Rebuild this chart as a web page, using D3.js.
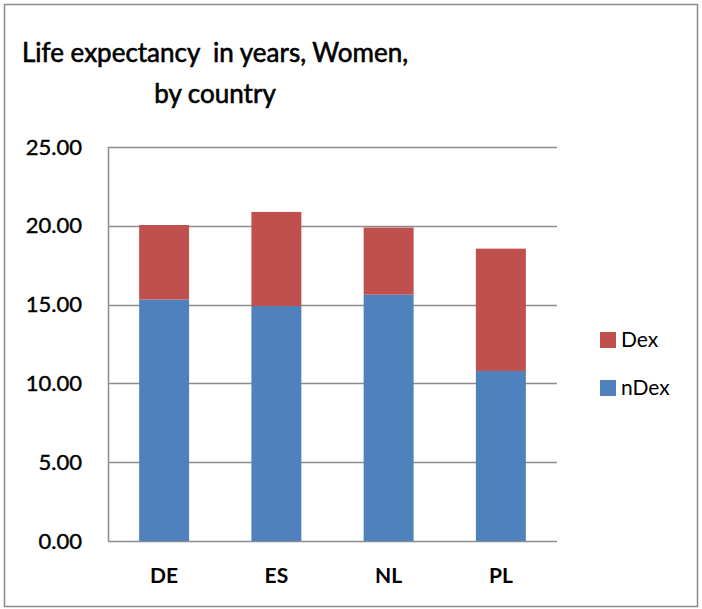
<!DOCTYPE html>
<html>
<head>
<meta charset="utf-8">
<script src="https://cdn.jsdelivr.net/npm/d3@7"></script>
<style>
  html, body { margin: 0; padding: 0; background: #fff; }
  svg { display: block; }
  text { font-family: Lato, "Open Sans", sans-serif; fill: #000; }
</style>
</head>
<body>
<svg id="chart" width="702" height="609"></svg>
<script>
// Life expectancy (years) for women, split into Dex and nDex
const countries = ["DE", "ES", "NL", "PL"];
const nDex = [15.32, 14.91, 15.63, 10.79];
const dex = [4.73, 5.97, 4.26, 7.76];
const seriesNames = ["nDex", "Dex"];
const seriesColors = ["#4F81BD", "#C0504D"];
const yTicks = [0, 5, 10, 15, 20, 25];
const titleLines = ["Life expectancy  in years, Women,", "by country"];

const svg = d3.select("#chart");
const W = 702, H = 609;
const plot = { left: 108, right: 557, top: 147, bottom: 541 };

// frame around the whole chart
svg.append("rect")
  .attr("x", 4.5).attr("y", 4.5)
  .attr("width", W - 9).attr("height", H - 7)
  .attr("fill", "#fff").attr("stroke", "#8a8a8a").attr("stroke-width", 1.5);

// title
const title = svg.append("text")
  .attr("text-anchor", "middle")
  .attr("font-size", 26)
  .attr("stroke", "#000")
  .attr("stroke-width", 0.6)
  .style("font-weight", 400);
titleLines.forEach((t, i) => {
  title.append("tspan")
    .attr("x", 215)
    .attr("y", 62 + i * 41)
    .attr("xml:space", "preserve")
    .style("white-space", "pre")
    .text(t);
});

const rows = countries.map((c, i) => ({ country: c, nDex: nDex[i], Dex: dex[i] }));
const stacked = d3.stack().keys(seriesNames)(rows);

const x = d3.scaleBand()
  .domain(countries)
  .range([plot.left, plot.right])
  .paddingInner(0.555)
  .paddingOuter(0.2775);

const y = d3.scaleLinear()
  .domain([0, 25])
  .range([plot.bottom, plot.top]);

// horizontal gridlines
svg.append("g")
  .selectAll("line")
  .data(yTicks)
  .join("line")
  .attr("x1", plot.left).attr("x2", plot.right)
  .attr("y1", d => Math.round(y(d)) + 0.5)
  .attr("y2", d => Math.round(y(d)) + 0.5)
  .attr("stroke", "#8c8c8c")
  .attr("stroke-width", 1.5);

// vertical axis line
svg.append("line")
  .attr("x1", plot.left + 0.5).attr("x2", plot.left + 0.5)
  .attr("y1", plot.top).attr("y2", plot.bottom)
  .attr("stroke", "#8c8c8c").attr("stroke-width", 1.5);

// stacked bars
svg.append("g")
  .selectAll("g")
  .data(stacked)
  .join("g")
  .attr("fill", (d, i) => seriesColors[i])
  .selectAll("rect")
  .data(d => d)
  .join("rect")
  .attr("x", d => x(d.data.country))
  .attr("width", x.bandwidth())
  .attr("y", d => y(d[1]))
  .attr("height", d => y(d[0]) - y(d[1]));

// y axis labels
const yAxis = d3.axisLeft(y)
  .tickValues(yTicks)
  .tickFormat(d3.format(".2f"))
  .tickSize(0)
  .tickPadding(26);
const yg = svg.append("g")
  .attr("transform", `translate(${plot.left},0)`)
  .call(yAxis);
yg.select(".domain").remove();
yg.selectAll("text")
  .attr("font-size", 22)
  .attr("font-family", "Lato, sans-serif")
  .attr("fill", "#000")
  .attr("stroke", "#000")
  .attr("stroke-width", 0.4);

// x axis labels
const xAxis = d3.axisBottom(x).tickSize(0).tickPadding(27);
const xg = svg.append("g")
  .attr("transform", `translate(0,${plot.bottom})`)
  .call(xAxis);
xg.select(".domain").remove();
xg.selectAll("text")
  .attr("font-size", 21)
  .attr("font-weight", 700)
  .attr("font-family", "Lato, sans-serif")
  .attr("fill", "#000");

// legend (Dex listed first)
const legendItems = [
  { name: seriesNames[1], color: seriesColors[1] },
  { name: seriesNames[0], color: seriesColors[0] }
];
const legend = svg.append("g")
  .attr("transform", "translate(600,332)")
  .selectAll("g")
  .data(legendItems)
  .join("g")
  .attr("transform", (d, i) => `translate(0,${i * 48})`);
legend.append("rect")
  .attr("width", 16).attr("height", 16)
  .attr("fill", d => d.color);
legend.append("text")
  .attr("x", 21).attr("y", 15)
  .attr("font-size", 21)
  .text(d => d.name);
</script>
</body>
</html>
